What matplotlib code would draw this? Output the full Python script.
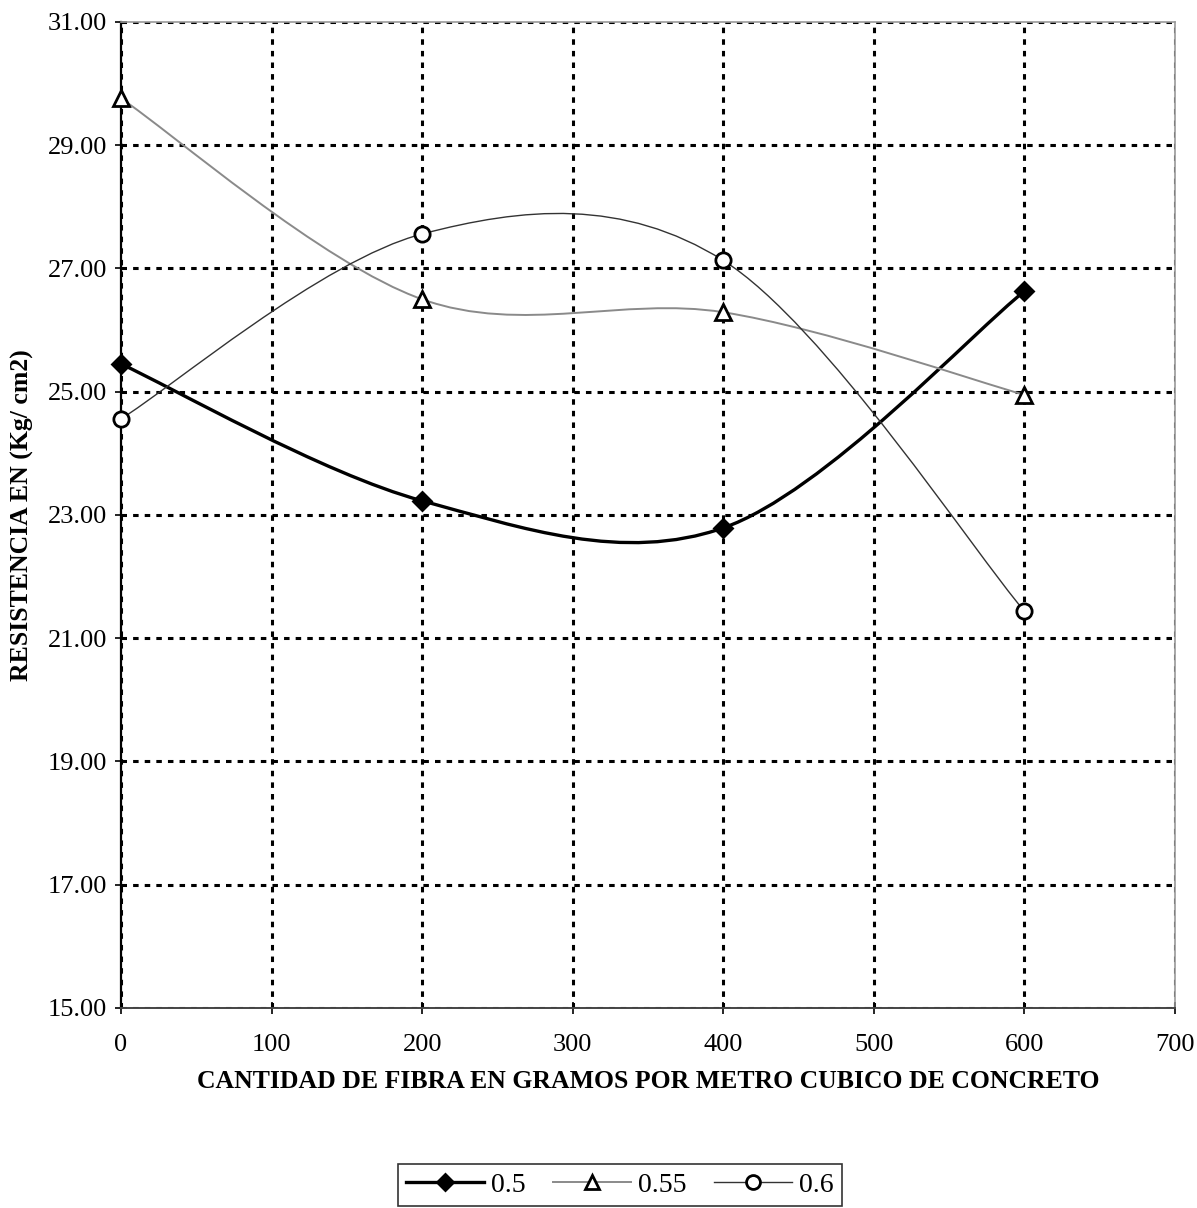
import matplotlib
matplotlib.use("Agg")
import matplotlib.pyplot as plt
from matplotlib.path import Path
from matplotlib.patches import PathPatch
from matplotlib.lines import Line2D

plt.rcParams['font.family'] = ['Liberation Serif', 'DejaVu Serif']

# datos
fibra = [0, 200, 400, 600]
r_050 = [25.45, 23.23, 22.79, 26.63]
r_055 = [29.76, 26.50, 26.29, 24.95]
r_060 = [24.56, 27.56, 27.13, 21.44]
series = ["0.5", "0.55", "0.6"]


def curva_suave(xs, ys):
    # linea suavizada tipo Excel (Bezier con tangentes catmull-rom)
    pts = list(zip(xs, ys))
    n = len(pts)
    verts = [pts[0]]
    codes = [Path.MOVETO]
    for i in range(n - 1):
        p0 = pts[i - 1] if i > 0 else pts[i]
        p1 = pts[i]
        p2 = pts[i + 1]
        p3 = pts[i + 2] if i + 2 < n else pts[i + 1]
        c1 = (p1[0] + (p2[0] - p0[0]) / 6, p1[1] + (p2[1] - p0[1]) / 6)
        c2 = (p2[0] - (p3[0] - p1[0]) / 6, p2[1] - (p3[1] - p1[1]) / 6)
        verts += [c1, c2, p2]
        codes += [Path.CURVE4] * 3
    return Path(verts, codes)


fig = plt.figure(figsize=(11.97, 12.08), dpi=100)
ax = fig.add_axes([0.1011, 0.1656, 0.8805, 0.8162])

estilos = [
    dict(color="black", lw=2.4, marker="D", mfc="black", ms=9),
    dict(color="#8a8a8a", lw=1.4, marker="^", mfc="white", ms=11),
    dict(color="#333333", lw=1.0, marker="o", mfc="white", ms=11),
]

for ys, nombre, st in zip([r_050, r_055, r_060], series, estilos):
    ax.add_patch(PathPatch(curva_suave(fibra, ys), fill=False,
                           edgecolor=st["color"], lw=st["lw"], zorder=3))
    ax.plot(fibra, ys, linestyle="none", marker=st["marker"], ms=st["ms"],
            mfc=st["mfc"], mec="black", mew=2, zorder=4, clip_on=False)

ax.set_xlim(0, 700)
ax.set_ylim(15, 31)
ax.set_xticks(range(0, 701, 100))
ax.set_yticks(range(15, 32, 2))
ax.set_yticklabels([f"{v:.2f}" for v in range(15, 32, 2)])
ax.tick_params(direction="inout", length=8, width=1.2, labelsize=19, pad=6)
ax.tick_params(axis="x", pad=15)

ax.grid(True, color="black", lw=2.2, linestyle=(0, (1.8, 2.0)))
ax.set_axisbelow(True)

ax.spines["left"].set_color("black")
ax.spines["left"].set_linewidth(1.6)
ax.spines["bottom"].set_color("#444444")
ax.spines["bottom"].set_linewidth(1.4)
for s in ["top", "right"]:
    ax.spines[s].set_color("#999999")
    ax.spines[s].set_linewidth(1.2)

ax.set_ylabel("RESISTENCIA EN (Kg/ cm2)", fontsize=18.5, fontweight="bold", labelpad=10)
ax.set_xlabel("CANTIDAD DE FIBRA EN GRAMOS POR METRO CUBICO DE CONCRETO",
              fontsize=18.5, fontweight="bold", labelpad=10)

handles = [Line2D([], [], color=st["color"], lw=st["lw"], marker=st["marker"],
                  ms=st["ms"] - 1, mfc=st["mfc"], mec="black", mew=2)
           for st in estilos]
leg = fig.legend(handles, series, loc="center", bbox_to_anchor=(0.518, 0.019),
                 ncol=3, fontsize=20, frameon=True, fancybox=False,
                 handlelength=2.8, columnspacing=1.0, handletextpad=0.25,
                 borderpad=0.3)
leg.get_frame().set_edgecolor("black")
leg.get_frame().set_linewidth(1.2)

fig.savefig("out.png", dpi=100)
